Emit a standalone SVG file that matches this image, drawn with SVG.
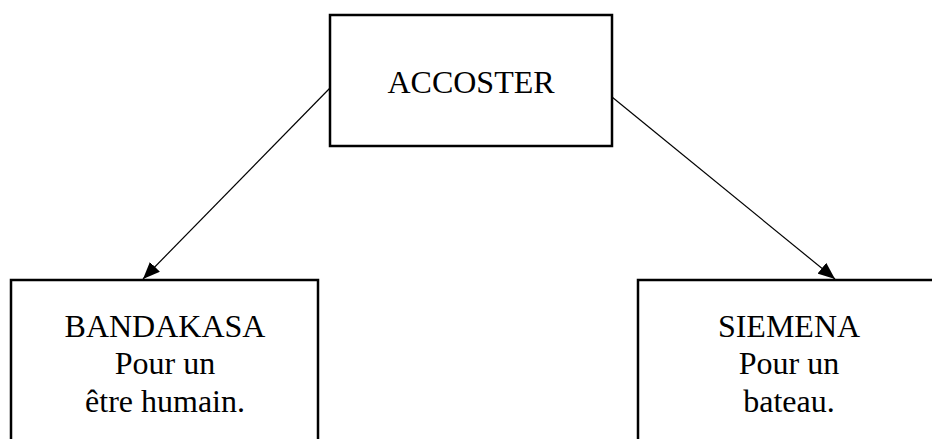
<svg xmlns="http://www.w3.org/2000/svg" width="932" height="439" viewBox="0 0 932 439">
<style>
.box{fill:#fff;stroke:#000;stroke-width:2.5}
.t{font-family:"Liberation Serif","Times New Roman",serif;font-size:32px;fill:#000;text-anchor:middle}
.c{stroke:#000;stroke-width:1.2;fill:none;marker-end:url(#ah)}
</style>
<defs>
<marker id="ah" markerUnits="userSpaceOnUse" markerWidth="18" markerHeight="14" refX="17" refY="7" orient="auto">
<path d="M0,0 L17,7 L0,14 Z" fill="#000"/>
</marker>
</defs>
<rect width="932" height="439" fill="#fff"/>
<g id="connectors">
<line class="c" x1="330" y1="88" x2="143" y2="279"/>
<line class="c" x1="612" y1="97" x2="835" y2="279"/>
</g>
<g id="accoster">
<rect class="box" x="330" y="15" width="282" height="131"/>
<text class="t" x="471" y="93">ACCOSTER</text>
</g>
<g id="bandakasa">
<rect class="box" x="11" y="280" width="307" height="180"/>
<text class="t" x="165" y="337">BANDAKASA</text>
<text class="t" x="165" y="374">Pour un</text>
<text class="t" x="165" y="412">être humain.</text>
</g>
<g id="siemena">
<rect class="box" x="638" y="280" width="302" height="180"/>
<text class="t" x="789" y="337">SIEMENA</text>
<text class="t" x="789" y="374">Pour un</text>
<text class="t" x="789" y="412">bateau.</text>
</g>
</svg>
